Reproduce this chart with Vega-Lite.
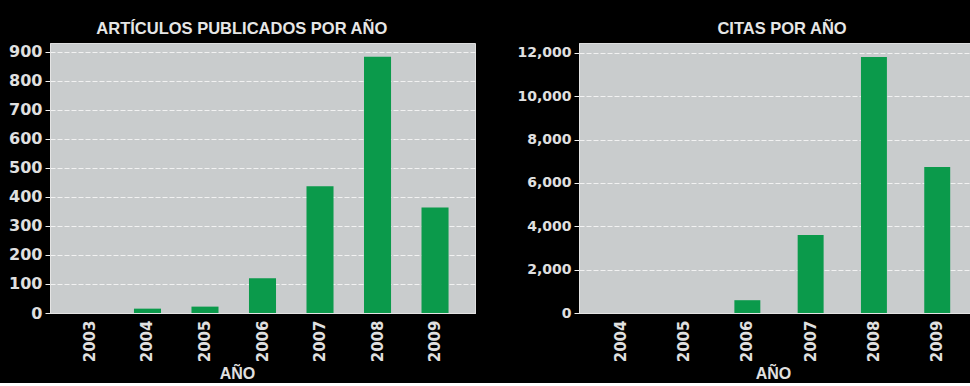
{
  "$schema": "https://vega.github.io/schema/vega-lite/v6.json",
  "background": "black",
  "padding": {"left": 8, "top": 20, "right": 0, "bottom": 0},
  "datasets": {
    "articulos": [
      {"anio": "2003", "articulos": 0},
      {"anio": "2004", "articulos": 15},
      {"anio": "2005", "articulos": 22},
      {"anio": "2006", "articulos": 120},
      {"anio": "2007", "articulos": 437},
      {"anio": "2008", "articulos": 884},
      {"anio": "2009", "articulos": 364}
    ],
    "citas": [
      {"anio": "2004", "citas": 0},
      {"anio": "2005", "citas": 0},
      {"anio": "2006", "citas": 590},
      {"anio": "2007", "citas": 3600},
      {"anio": "2008", "citas": 11810},
      {"anio": "2009", "citas": 6730}
    ]
  },
  "spacing": 40,
  "hconcat": [
    {
      "data": {"name": "articulos"},
      "width": 425,
      "height": 270,
      "title": {"text": "ARTÍCULOS PUBLICADOS POR AÑO", "frame": "bounds", "anchor": "middle", "fontSize": 16.5, "font": "Liberation Sans", "fontWeight": "bold", "color": "#e6e6e6", "offset": 6},
      "mark": {"type": "bar", "color": "#0b9a4b"},
      "encoding": {
        "x": {
          "field": "anio", "type": "ordinal", "title": "AÑO",
          "scale": {"paddingInner": 0.53, "paddingOuter": 0.46},
          "axis": {"labelAngle": -90, "ticks": false, "labelPadding": 7, "titleX": 187, "titlePadding": 4}
        },
        "y": {
          "field": "articulos", "type": "quantitative", "title": null,
          "scale": {"domain": [0, 931], "nice": false},
          "axis": {"values": [0, 100, 200, 300, 400, 500, 600, 700, 800, 900], "labelFontSize": 16, "tickSize": 5, "labelPadding": 3}
        }
      }
    },
    {
      "data": {"name": "citas"},
      "width": 400,
      "height": 270,
      "title": {"text": "CITAS POR AÑO", "frame": "group", "anchor": "middle", "fontSize": 16.5, "font": "Liberation Sans", "fontWeight": "bold", "color": "#e6e6e6", "offset": 6, "dx": 3},
      "mark": {"type": "bar", "color": "#0b9a4b"},
      "encoding": {
        "x": {
          "field": "anio", "type": "ordinal", "title": "AÑO",
          "scale": {"paddingInner": 0.59, "paddingOuter": 0.455},
          "axis": {"labelAngle": -90, "ticks": false, "labelPadding": 7, "titleX": 194, "titlePadding": 4}
        },
        "y": {
          "field": "citas", "type": "quantitative", "title": null,
          "scale": {"domain": [0, 12450], "nice": false},
          "axis": {"values": [0, 2000, 4000, 6000, 8000, 10000, 12000], "labelFontSize": 14, "tickSize": 5, "labelPadding": 3}
        }
      }
    }
  ],
  "config": {
    "view": {"fill": "#c9cccd", "stroke": "#dedede", "strokeWidth": 1},
    "axis": {
      "labelColor": "#e0e0e0",
      "labelFont": "DejaVu Sans",
      "labelFontWeight": "bold",
      "labelFontSize": 15,
      "titleColor": "#e0e0e0",
      "titleFont": "Liberation Sans",
      "titleFontSize": 16,
      "titleFontWeight": "bold",
      "domainColor": "#e4e4e4",
      "tickColor": "#f0f0f0",
      "gridColor": "#f2f2f2",
      "gridDash": [5, 2],
      "gridWidth": 1
    },
    "axisX": {"grid": false},
    "axisY": {"grid": true}
  }
}
